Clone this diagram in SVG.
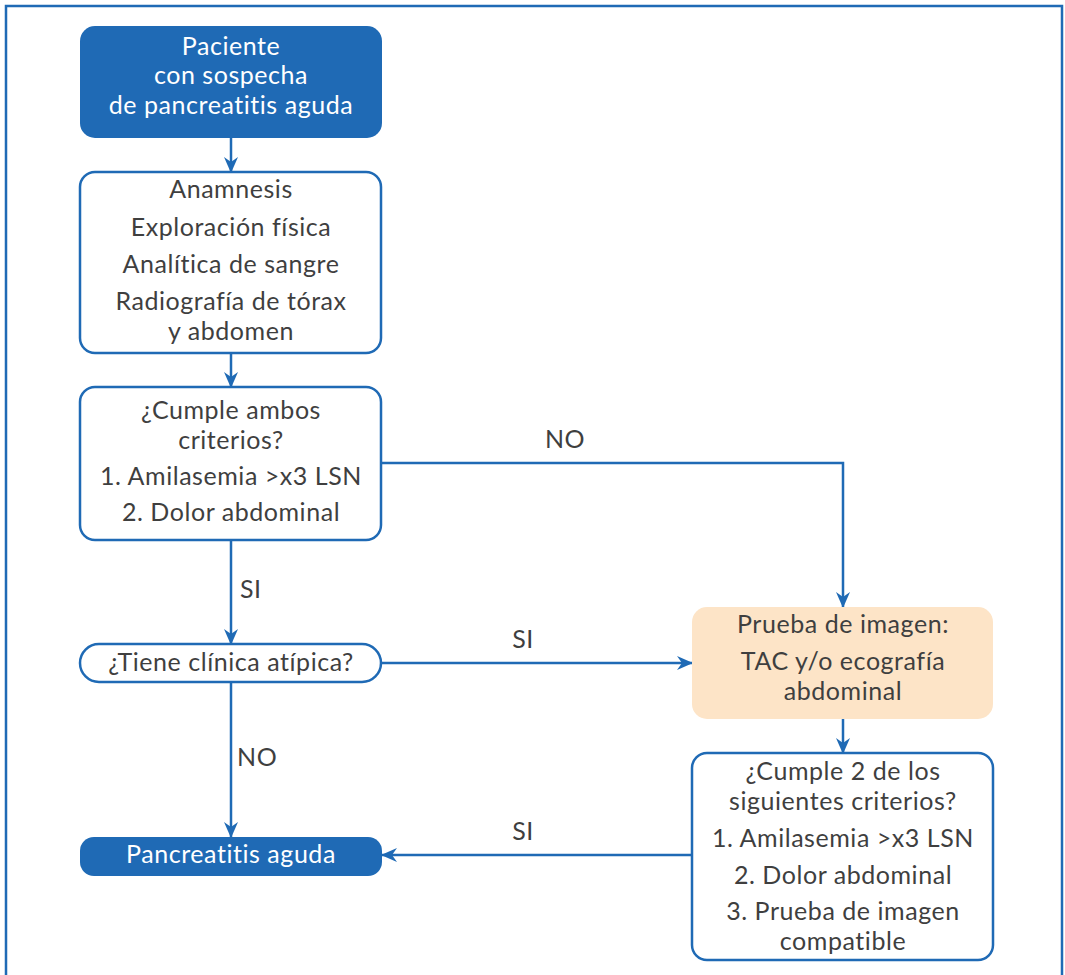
<svg xmlns="http://www.w3.org/2000/svg" width="1065" height="975" viewBox="0 0 1065 975">
<style>
.t{font-family:Lato,"Open Sans","Liberation Sans",sans-serif;font-size:25px;letter-spacing:0.55px;fill:#3f3f3f;text-anchor:middle}
.w{fill:#ffffff}
.lbl{text-anchor:start}
.box{fill:#ffffff;stroke:#1f6ab5;stroke-width:2.5}
.dark{fill:#1f6ab5}
.img{fill:#fde4c7}
.c{fill:none;stroke:#1f6ab5;stroke-width:2.5}
</style>
<defs>
<marker id="ah" viewBox="0 0 16 14" refX="15" refY="7" markerWidth="16" markerHeight="14" markerUnits="userSpaceOnUse" orient="auto">
<path d="M0,0 L16,7 L0,14 L5,7 Z" fill="#1f6ab5"/>
</marker>
</defs>
<rect x="0" y="0" width="1065" height="975" fill="#ffffff"/>
<path d="M6,985 V6 H1062 V985" fill="none" stroke="#1f6ab5" stroke-width="2.5"/>

<g id="connectors">
<path class="c" d="M231,138 V172" marker-end="url(#ah)"/>
<path class="c" d="M231,353 V387" marker-end="url(#ah)"/>
<path class="c" d="M381,463 H843 V607" marker-end="url(#ah)"/>
<path class="c" d="M231,540 V644" marker-end="url(#ah)"/>
<path class="c" d="M382,663 H692" marker-end="url(#ah)"/>
<path class="c" d="M231,683 V837" marker-end="url(#ah)"/>
<path class="c" d="M843,719 V753" marker-end="url(#ah)"/>
<path class="c" d="M692,855 H382" marker-end="url(#ah)"/>
<text class="t" x="565" y="448">NO</text>
<text class="t lbl" x="240" y="598">SI</text>
<text class="t" x="523" y="648">SI</text>
<text class="t lbl" x="237" y="766">NO</text>
<text class="t" x="523" y="840">SI</text>
</g>

<g id="n1">
<rect class="dark" x="80" y="26" width="302" height="112" rx="15"/>
<text class="t w" x="231" y="55">Paciente</text>
<text class="t w" x="231" y="84">con sospecha</text>
<text class="t w" x="231" y="114">de pancreatitis aguda</text>
</g>

<g id="n2">
<rect class="box" x="80" y="172" width="301" height="181" rx="15"/>
<text class="t" x="231" y="198">Anamnesis</text>
<text class="t" x="231" y="236">Exploración física</text>
<text class="t" x="231" y="273">Analítica de sangre</text>
<text class="t" x="231" y="310">Radiografía de tórax</text>
<text class="t" x="231" y="340">y abdomen</text>
</g>

<g id="n3">
<rect class="box" x="80" y="387" width="301" height="153" rx="15"/>
<text class="t" x="231" y="419">¿Cumple ambos</text>
<text class="t" x="231" y="449">criterios?</text>
<text class="t" x="231" y="485">1. Amilasemia &gt;x3 LSN</text>
<text class="t" x="231" y="521">2. Dolor abdominal</text>
</g>

<g id="n4">
<rect class="box" x="80" y="644" width="301" height="38" rx="19"/>
<text class="t" x="231" y="671">¿Tiene clínica atípica?</text>
</g>

<g id="n5">
<rect class="dark" x="80" y="837" width="302" height="39" rx="14"/>
<text class="t w" x="231" y="863">Pancreatitis aguda</text>
</g>

<g id="n6">
<rect class="img" x="692" y="607" width="301" height="112" rx="15"/>
<text class="t" x="843" y="633">Prueba de imagen:</text>
<text class="t" x="843" y="670">TAC y/o ecografía</text>
<text class="t" x="843" y="700">abdominal</text>
</g>

<g id="n7">
<rect class="box" x="692" y="753" width="301" height="207" rx="15"/>
<text class="t" x="843" y="780">¿Cumple 2 de los</text>
<text class="t" x="843" y="810">siguientes criterios?</text>
<text class="t" x="843" y="847">1. Amilasemia &gt;x3 LSN</text>
<text class="t" x="843" y="884">2. Dolor abdominal</text>
<text class="t" x="843" y="920">3. Prueba de imagen</text>
<text class="t" x="843" y="950">compatible</text>
</g>
</svg>
